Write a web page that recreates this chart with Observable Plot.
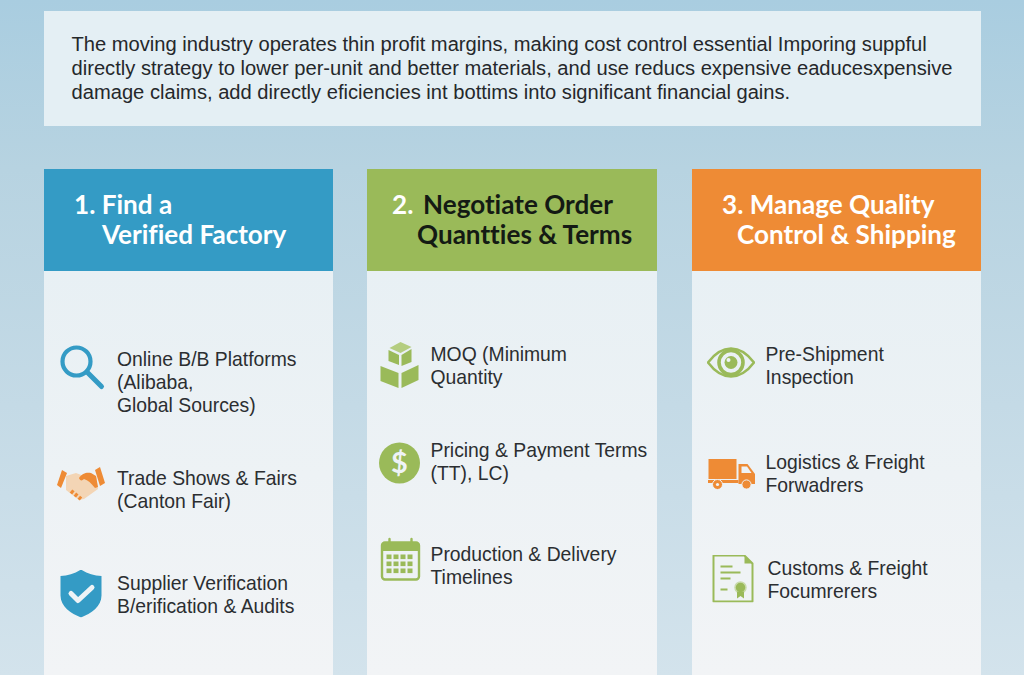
<!DOCTYPE html>
<html>
<head>
<meta charset="utf-8">
<script src="https://cdn.jsdelivr.net/npm/d3@7"></script>
<script src="https://cdn.jsdelivr.net/npm/@observablehq/plot@0.6"></script>
<style>
html,body{margin:0;padding:0;background:#c5dae6;overflow:hidden}
svg{display:block}
svg text{font-variant-ligatures:none}
</style>
</head>
<body>
<div id="chart"></div>
<script>
// ---- content ----
const introLines = [
  "The moving industry operates thin profit margins, making cost control essential Imporing suppful",
  "directly strategy to lower per-unit and better materials, and use reducs expensive eaducesxpensive",
  "damage claims, add directly eficiencies int bottims into significant financial gains."
];
const stepIds = ["find", "negotiate", "manage"];
const stepColors = ["#349bc5", "#9aba59", "#ee8b35"];
const headerLines = [
  "1. Find a", "Verified Factory",
  "2.", "Negotiate Order", "Quantties & Terms",
  "3. Manage Quality", "Control & Shipping"
];
const itemLabels = [
  "Online B/B Platforms\n(Alibaba,\nGlobal Sources)",
  "Trade Shows & Fairs\n(Canton Fair)",
  "Supplier Verification\nB/erification & Audits",
  "MOQ (Minimum\nQuantity",
  "Pricing & Payment Terms\n(TT), LC)",
  "Production & Delivery\nTimelines",
  "Pre-Shipment\nInspection",
  "Logistics & Freight\nForwadrers",
  "Customs & Freight\nFocumrerers"
];

// ---- layout (separate from content) ----
const colX = [[44, 333], [367, 657], [692, 981]];
const headerX = [73.5, 101.5, 391.5, 422.5, 416.5, 721.5, 736.5];
const headerY = [205, 235, 205, 205, 235, 205, 235];
const headerFill = ["#fff", "#fff", "#fff", "#141a14", "#141a14", "#fff", "#fff"];
const itemX = [116.5, 116.5, 116.5, 430, 430, 430, 765, 765, 767];
const itemY = [381, 488.5, 593.5, 364.5, 460.5, 564.5, 364.5, 472.5, 578.5];
const iconX = [81.5, 80.5, 80.5, 399, 399, 400, 730.5, 731, 732];
const iconY = [366.5, 484.5, 593, 364.5, 462.5, 559.5, 362, 473.5, 578];

const B = stepColors[0], G = stepColors[1], O = stepColors[2];
const svgIcon = body => "data:image/svg+xml," + encodeURIComponent(
  `<svg xmlns="http://www.w3.org/2000/svg" viewBox="0 0 48 48" width="192" height="192">${body}</svg>`);
const iconBodies = [
  // magnifier
  `<circle cx="18.5" cy="18.5" r="14" fill="none" stroke="${B}" stroke-width="4.2"/>
   <line x1="29" y1="29" x2="43.5" y2="43.5" stroke="${B}" stroke-width="5" stroke-linecap="round"/>`,
  // handshake
  `<path d="M9 15 L19 12 L27 15 L39 15 L41 28 L27 38 L22 39 L9 29Z" fill="#f3d5b5"/>
   <path d="M5 9 L10 12 L4 27 L0 24Z" fill="${O}"/>
   <path d="M38 9 L43 6 L48 22 L43 25Z" fill="${O}"/>
   <path d="M22 17 C25 12 30 11 34 12 L39 15 L41 26 L38 27 C34 22 31 19 27 18 C25 20 23 20 22 17Z" fill="${O}"/>
   <path d="M14 30 L24 38" stroke="${O}" stroke-width="4" stroke-dasharray="3 2" fill="none"/>`,
  // shield
  `<path d="M24 0 C30 4 37 6 44.5 6.5 L44.5 26 C44.5 37 34 44 24 48 C14 44 3.5 37 3.5 26 L3.5 6.5 C11 6 18 4 24 0Z" fill="${B}"/>
   <path d="M14 24 L21 31 L35 18" fill="none" stroke="#eef3f6" stroke-width="5" stroke-linecap="round" stroke-linejoin="round"/>`,
  // boxes
  `<path d="M14 7 L25 1 L36 6 L25 12Z" fill="#b4cd80"/>
   <path d="M13 9 L23.5 14 L23.5 24 L13 20Z" fill="${G}"/>
   <path d="M26 14 L36 8 L36 21 L26 25Z" fill="${G}"/>
   <path d="M5 25 L23 32 L23 47 L5 40Z" fill="${G}"/>
   <path d="M26 32 L43 24 L43 39 L26 47Z" fill="${G}"/>`,
  // dollar disc
  `<circle cx="24" cy="24" r="20.5" fill="${G}"/>`,
  // calendar
  `<rect x="5.5" y="6.5" width="37" height="37" rx="3" fill="#eef2f5" stroke="${G}" stroke-width="2.4"/>
   <path d="M5.5 15 V9 Q5.5 6.5 8 6.5 H40 Q42.5 6.5 42.5 9 V15Z" fill="${G}"/>
   <line x1="13" y1="3" x2="13" y2="9" stroke="${G}" stroke-width="2.4" stroke-linecap="round"/>
   <line x1="35" y1="3" x2="35" y2="9" stroke="${G}" stroke-width="2.4" stroke-linecap="round"/>
   <g fill="${G}">
   ${[18.5,25.5,32.5].flatMap(y=>[10,17,24,31].map(x=>`<rect x="${x}" y="${y}" width="5" height="4.6"/>`)).join("")}
   </g>`,
  // eye
  `<path d="M1 24 C10 12 18 10 24 10 C30 10 38 12 47 24 C38 36 30 38 24 38 C18 38 10 36 1 24Z" fill="none" stroke="${G}" stroke-width="2.6"/>
   <circle cx="24" cy="24" r="12" fill="none" stroke="${G}" stroke-width="3.6"/>
   <circle cx="24" cy="24" r="6.5" fill="${G}"/>
   <circle cx="21.5" cy="21.5" r="2" fill="#eef3f6"/>`,
  // truck
  `<rect x="1" y="9" width="28" height="20" fill="${O}"/>
   <path d="M31 14 H40 L47.5 24 V34 H31Z" fill="${O}"/>
   <path d="M34 16.5 H39.5 L44 23 H34Z" fill="#eef3f6"/>
   <rect x="0" y="30" width="31" height="3" fill="${O}"/>
   <circle cx="10" cy="34.5" r="5" fill="${O}" stroke="#eef3f6" stroke-width="1"/>
   <circle cx="10" cy="34.5" r="1.6" fill="#eef3f6"/>
   <circle cx="39" cy="34.5" r="4.6" fill="${O}" stroke="#eef3f6" stroke-width="1"/>`,
  // document
  `<path d="M5 1 H36 L44 9 V47 H5Z" fill="#eff3f5" stroke="${G}" stroke-width="2" stroke-linejoin="round"/>
   <path d="M36 1 V9 H44Z" fill="${G}"/>
   <g stroke="${G}" stroke-width="1.8"><line x1="12" y1="12" x2="24" y2="12"/><line x1="12" y1="18" x2="32" y2="18"/><line x1="12" y1="24" x2="22" y2="24"/><line x1="12" y1="35" x2="19" y2="35"/></g>
   <circle cx="32" cy="33" r="5.5" fill="${G}" stroke="#c9dbab" stroke-width="1.5"/>
   <path d="M28.5 37 L28.5 44 L32 41.5 L35.5 44 L35.5 37Z" fill="${G}"/>`
];

// ---- tables ----
const steps = stepIds.map((id, i) => ({id, color: stepColors[i], x1: colX[i][0], x2: colX[i][1]}));
const intro = introLines.map((text, i) => ({text, y: 44 + i * 24}));
const headers = headerLines.map((text, i) => ({text, x: headerX[i], y: headerY[i], fill: headerFill[i]}));
const items = itemLabels.map((text, i) => ({text, x: itemX[i], y: itemY[i]}));
const icons = iconBodies.map((b, i) => ({src: svgIcon(b), x: iconX[i], y: iconY[i]}));

// gradient definitions used by panel fills
const defs = () => {
  const s = d3.create("svg:defs");
  const g = s.append("linearGradient").attr("id", "panelGrad").attr("x1", 0).attr("y1", 0).attr("x2", 0).attr("y2", 1);
  g.append("stop").attr("offset", 0).attr("stop-color", "#e8f0f4");
  g.append("stop").attr("offset", 1).attr("stop-color", "#f2f4f6");
  return s.node();
};

const chart = Plot.plot({
  width: 1024,
  height: 675,
  margin: 0,
  x: {type: "linear", domain: [0, 1024], range: [0, 1024], axis: null},
  y: {type: "linear", domain: [0, 675], range: [0, 675], axis: null},
  style: {
    background: "linear-gradient(180deg,#a9cde0 0%,#b7d3e1 25%,#c4dae6 60%,#d3e3ec 100%)",
    fontFamily: "'Liberation Sans', Arial, sans-serif"
  },
  marks: [
    defs,
    Plot.rect([{}], {x1: () => 44, x2: () => 981, y1: () => 11, y2: () => 126, fill: "#e4eff4"}),
    Plot.rect(steps, {x1: "x1", x2: "x2", y1: () => 271, y2: () => 675, fill: "url(#panelGrad)"}),
    Plot.rect(steps, {x1: "x1", x2: "x2", y1: () => 169, y2: () => 271, fill: "color"}),
    Plot.text(intro, {x: () => 71, y: "y", text: "text", textAnchor: "start", fontSize: 20.15, fill: "#25282b"}),
    Plot.text(headers, {x: "x", y: "y", text: "text", fill: "fill", textAnchor: "start",
      fontFamily: "Lato, sans-serif", fontWeight: 700, fontSize: 26.1}),
    Plot.text(items, {x: "x", y: "y", text: "text", textAnchor: "start", lineHeight: 1.18, fontSize: 19.35, fill: "#2b2e31"}),
    Plot.image(icons, {x: "x", y: "y", src: "src", width: 48, height: 48}),
    Plot.text(["$"], {x: () => 399, y: () => 463, text: d => d, fill: "#eef3f6", fontWeight: 700, fontSize: 29,
      fontFamily: "Lato, sans-serif"})
  ]
});
document.getElementById("chart").append(chart);
</script>
</body>
</html>
